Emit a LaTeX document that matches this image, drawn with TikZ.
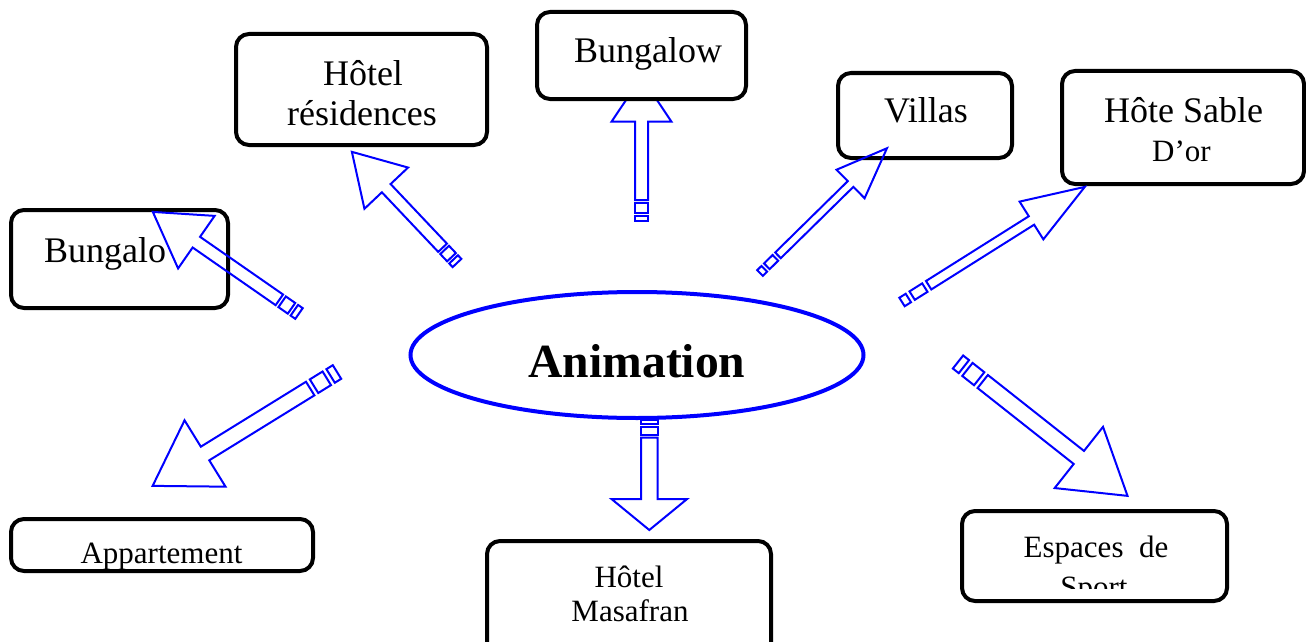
\documentclass[tikz,border=0pt]{standalone}
\usepackage{fontspec}
\setmainfont{Liberation Serif}
\usetikzlibrary{shapes.geometric}
\tikzset{
  box/.style={draw=black, line width=4pt, rounded corners=13pt, fill=white, inner sep=0pt},
  arrowline/.style={draw=blue, line width=2pt, line join=miter},
  lbl/.style={anchor=base, inner sep=0pt, font=\fontsize{36}{40}\selectfont},
  lbls/.style={anchor=base, inner sep=0pt, font=\fontsize{31}{36}\selectfont},
}
% #1,#2 tail; #3 angle; #4 length; #5 shaft half width; #6 head length; #7 head half width; #8 stripe unit
\newcommand\stripedarrow[8]{%
  \begin{scope}[shift={(#1,#2)},rotate=#3]
    \draw[arrowline] (0,-#5) rectangle ({#8},#5);
    \draw[arrowline] ({1.6*#8},-#5) rectangle ({3.6*#8},#5);
    \draw[arrowline] ({4.2*#8},-#5) -- ({#4-#6},-#5) -- ({#4-#6},-#7) -- (#4,0)
      -- ({#4-#6},#7) -- ({#4-#6},#5) -- ({4.2*#8},#5) -- cycle;
  \end{scope}}
\begin{document}
\begin{tikzpicture}[x=1pt,y=-1pt]
\useasboundingbox (0,0) rectangle (1306,642);
\clip (0,0) rectangle (1306,642);

% arrow hidden under the Bungalow box
\stripedarrow{641.5}{221}{90}{144}{6.5}{44.7}{30}{5}

% boxes
\node[box, minimum width=251pt, minimum height=111pt] (hr) at (361.5,89.5) {};
\node[box, minimum width=209pt, minimum height=87pt] (bw) at (641.5,55.5) {};
\node[box, minimum width=174pt, minimum height=85pt] (vi) at (925,115.5) {};
\node[box, minimum width=242pt, minimum height=113pt] (hs) at (1183,127.5) {};
\node[box, minimum width=217pt, minimum height=98pt] (bo) at (119.5,259) {};
\node[box, minimum width=302pt, minimum height=52pt] (ap) at (162,545) {};
\node[box, minimum width=284pt, minimum height=118pt] (hm) at (629,600) {};
\node[box, minimum width=265pt, minimum height=90pt] (es) at (1094.5,556) {};

% labels
\node[lbl] (hr1) at (363,85) {Hôtel};
\node[lbl] (hr2) at (362,125) {résidences};
\node[lbl] (bw1) at (648,63) {Bungalow};
\node[lbl] (vi1) at (926,122) {Villas};
\node[lbl] (hs1) at (1183.5,122) {Hôte Sable};
\node[lbls] (hs2) at (1181.5,161) {D’or};
\node[lbl, anchor=base west] (bo1) at (44,262) {Bungalo};
\node[lbls] (ap1) at (161.5,563) {Appartement};
\node[lbls] (hm1) at (629,587) {Hôtel};
\node[lbls] (hm2) at (630,621) {Masafran};
\node[lbls] (es1) at (1096,557) {Espaces\ \ de};
\begin{scope}
  \clip (962,511) rectangle (1227,588);
  \node[lbls] (es2) at (1094,597) {Sport};
\end{scope}

% centre
\node[draw=blue, line width=4pt, ellipse, minimum width=453pt, minimum height=126pt, inner sep=0pt] (anim) at (637,355) {};
\node[anchor=base, inner sep=0pt, font=\bfseries\fontsize{47.6}{50}\selectfont] (animt) at (637,377) {Animation};

% arrows
\stripedarrow{299}{313.5}{145.2}{178}{6.5}{53}{32}{5.7}
\stripedarrow{457}{263}{133.4}{153}{6}{50}{30}{5}
\stripedarrow{760}{273}{44.5}{178}{4}{51}{20}{6}
\stripedarrow{902}{302}{32.2}{216}{5}{63}{22.3}{7.5}
\stripedarrow{337}{372}{211.7}{216.7}{8}{61.6}{39}{7.5}
\stripedarrow{649.3}{420}{-90}{110}{8.3}{31}{37.8}{4.2}
\stripedarrow{958}{362}{-38.3}{216}{8.3}{62}{39}{7.5}
\end{tikzpicture}
\end{document}
